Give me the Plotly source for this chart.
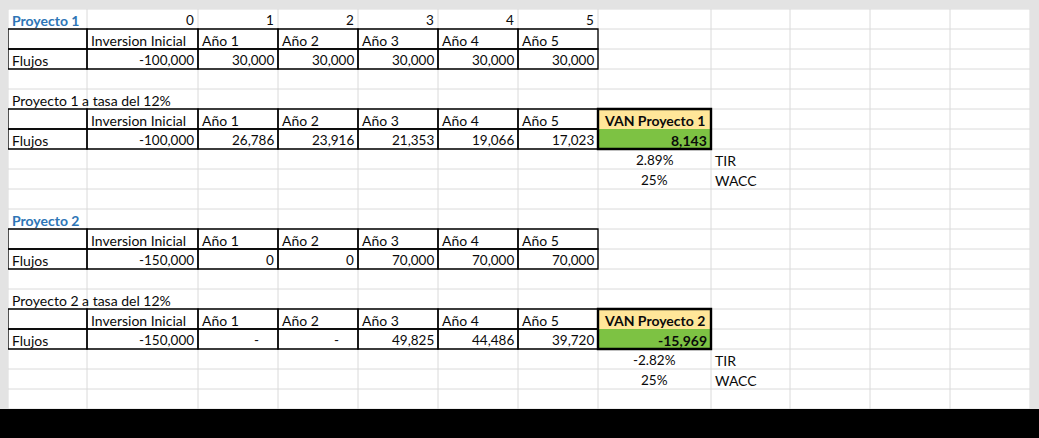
import plotly.graph_objects as go

# datos de la hoja
periodos = [0, 1, 2, 3, 4, 5]
encabezados = ["Inversion Inicial", "Año 1", "Año 2", "Año 3", "Año 4", "Año 5"]
flujos_p1 = [-100000, 30000, 30000, 30000, 30000, 30000]
descontados_p1 = [-100000, 26786, 23916, 21353, 19066, 17023]
van_p1 = 8143
tir_p1 = 0.0289
flujos_p2 = [-150000, 0, 0, 70000, 70000, 70000]
descontados_p2 = [-150000, 0, 0, 49825, 44486, 39720]
van_p2 = -15969
tir_p2 = -0.0282
wacc = 0.25

# geometria de la hoja (pixeles)
col_x = [8, 87, 198, 278, 358, 438, 518, 598, 711, 790, 870, 950, 1030]
top = 9
row_h = 20
n_rows = 20
W, H = 1039, 438

FONT = "Lato"
FS = 14
FS_NUM = 13.5
INK = "#0a0a0a"
BLUE = "#2e75b6"
GRID = "#dadada"

shapes = []
annotations = []


def cell(r, c):
    # r, c start at 1 (fila 1 = columna A)
    return col_x[c - 1], col_x[c], top + (r - 1) * row_h, top + r * row_h


def rect(x0, y0, x1, y1, fill=None, line=None, lw=1, layer="above"):
    shapes.append(dict(type="rect", xref="x", yref="y", x0=x0, y0=y0, x1=x1, y1=y1,
                       fillcolor=fill if fill else "rgba(0,0,0,0)",
                       line=dict(color=line if line else "rgba(0,0,0,0)", width=lw if line else 0),
                       layer=layer))


def line(x0, y0, x1, y1, color, lw=1, layer="above"):
    shapes.append(dict(type="line", xref="x", yref="y", x0=x0, y0=y0, x1=x1, y1=y1,
                       line=dict(color=color, width=lw), layer=layer))


def put(r, c, s, align="left", bold=False, color=INK, size=FS):
    x0, x1, y0, y1 = cell(r, c)
    if align == "left":
        x, anchor = x0 + 2, "left"
    elif align == "right":
        x, anchor = x1 - 2, "right"
    else:
        x, anchor = (x0 + x1) / 2, "center"
    if bold:
        s = "<b>" + s + "</b>"
    annotations.append(dict(x=x, y=(y0 + y1) / 2 + 1, xref="x", yref="y", text=s,
                            showarrow=False, xanchor=anchor, yanchor="middle",
                            font=dict(family=FONT, size=size, color=color)))


def num(v):
    return "{:,.0f}".format(v)


def acct(r, c, v):
    # formato contable: cero se muestra como guion
    if v == 0:
        x0, x1, y0, y1 = cell(r, c)
        annotations.append(dict(x=x1 - 22, y=(y0 + y1) / 2 + 1, xref="x", yref="y", text="-",
                                showarrow=False, xanchor="center", yanchor="middle",
                                font=dict(family=FONT, size=FS_NUM, color=INK)))
    else:
        put(r, c, num(v), "right", size=FS_NUM)


# cuadricula de excel
for r in range(n_rows + 1):
    y = top + r * row_h
    line(col_x[0], y, col_x[-1], y, GRID, 1, "below")
for x in col_x:
    line(x, top, x, top + n_rows * row_h, GRID, 1, "below")


def tabla(r0, con_van):
    # bordes de la tabla A:G de dos filas
    for r in (r0, r0 + 1):
        for c in range(1, 8):
            x0, x1, y0, y1 = cell(r, c)
            rect(x0, y0, x1, y1, line="#000000", lw=1.3)
    if con_van:
        x0, x1, y0, _ = cell(r0, 8)
        _, _, _, y1 = cell(r0 + 1, 8)
        rect(x0, y0, x1, (y0 + y1) / 2, fill="#ffe699", layer="below")
        rect(x0, (y0 + y1) / 2, x1, y1, fill="#7dc243", layer="below")
        rect(x0, y0, x1, y1, line="#000000", lw=2.4)
    for i, h in enumerate(encabezados):
        put(r0, i + 2, h, "left")
    put(r0 + 1, 1, "Flujos", "left")


# Proyecto 1
put(1, 1, "Proyecto 1", bold=True, color=BLUE)
for i, p in enumerate(periodos):
    put(1, i + 2, str(p), "right", size=FS_NUM)
tabla(2, False)
for i, v in enumerate(flujos_p1):
    put(3, i + 2, num(v), "right", size=FS_NUM)

put(5, 1, "Proyecto 1 a tasa del 12%")
tabla(6, True)
for i, v in enumerate(descontados_p1):
    acct(7, i + 2, v)
put(6, 8, "VAN Proyecto 1", "center", bold=True)
put(7, 8, num(van_p1), "right", bold=True)
put(8, 8, "{:.2%}".format(tir_p1), "center", size=FS_NUM)
put(8, 9, "TIR")
put(9, 8, "{:.0%}".format(wacc), "center", size=FS_NUM)
put(9, 9, "WACC")

# Proyecto 2
put(11, 1, "Proyecto 2", bold=True, color=BLUE)
tabla(12, False)
for i, v in enumerate(flujos_p2):
    put(13, i + 2, num(v), "right", size=FS_NUM)

put(15, 1, "Proyecto 2 a tasa del 12%")
tabla(16, True)
for i, v in enumerate(descontados_p2):
    acct(17, i + 2, v)
put(16, 8, "VAN Proyecto 2", "center", bold=True)
put(17, 8, num(van_p2), "right", bold=True)
put(18, 8, "{:.2%}".format(tir_p2), "center", size=FS_NUM)
put(18, 9, "TIR")
put(19, 8, "{:.0%}".format(wacc), "center", size=FS_NUM)
put(19, 9, "WACC")

# marco gris de la ventana y franja negra inferior
rect(0, 0, W, top, fill="#e3e3e3", layer="above")
rect(0, 0, col_x[0], H, fill="#e3e3e3", layer="above")
rect(col_x[-1], 0, W, H, fill="#e3e3e3", layer="above")
rect(0, 409, W, H, fill="#000000", layer="above")

fig = go.Figure()
fig.add_trace(go.Scatter(x=[0, W], y=[0, H], mode="markers", marker=dict(opacity=0),
                         hoverinfo="skip", showlegend=False))
fig.update_layout(
    width=W, height=H,
    margin=dict(l=0, r=0, t=0, b=0),
    paper_bgcolor="white", plot_bgcolor="white",
    xaxis=dict(range=[0, W], visible=False, fixedrange=True),
    yaxis=dict(range=[H, 0], visible=False, fixedrange=True),
    shapes=shapes, annotations=annotations,
    showlegend=False,
)
# quitar el margen por defecto del body para que la hoja quede en (0, 0)
fig.write_html("out.html", config={"displayModeBar": False},
               post_script="document.body.style.margin='0';document.body.style.overflow='hidden';")
